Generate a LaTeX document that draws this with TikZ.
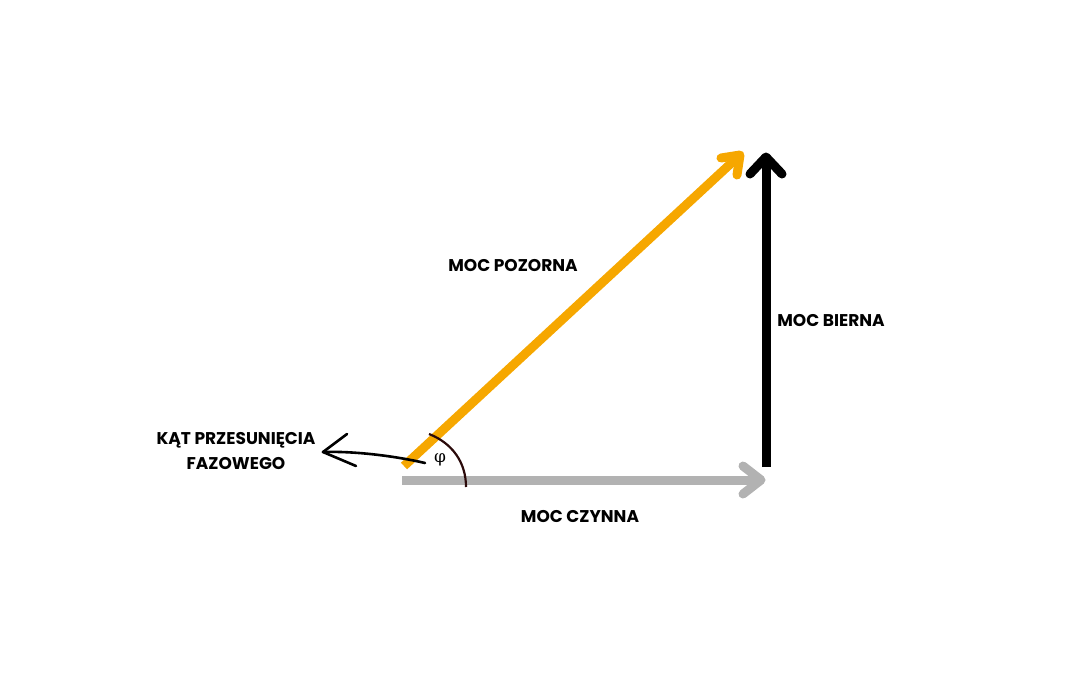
\documentclass[tikz,border=0pt]{standalone}
\usepackage{fontspec}
\setmainfont{Poppins}
\newfontfamily\grk{DejaVu Serif}
\definecolor{orng}{HTML}{F6A700}
\definecolor{gry}{HTML}{B2B2B2}
\definecolor{arcc}{HTML}{2B0A0A}
\tikzset{
  vec/.style={line width=9pt, line cap=round, line join=round},
  lbl/.style={font=\bfseries\fontsize{17}{20}\selectfont, inner sep=0pt, align=center},
}
\begin{document}
\begin{tikzpicture}[x=1pt,y=-1pt]
\useasboundingbox (0,0) rectangle (1080,675);
% coordinates
\coordinate (gS) at (402,480);
\coordinate (gT) at (761,480);
\coordinate (gA1) at (743,466);
\coordinate (gA2) at (743,494);
\coordinate (bS) at (766,467);
\coordinate (bT) at (766,157);
\coordinate (bA1) at (750,174);
\coordinate (bA2) at (782,174);
\coordinate (oS) at (404,466);
\coordinate (oT) at (740,155);
\coordinate (oA1) at (721,158);
\coordinate (oA2) at (737,175);
% vectors
\draw[vec, gry, line cap=butt] (gS) -- (gT);
\draw[vec, gry] (gA1) -- (gT) -- (gA2);
\draw[vec, black, line cap=butt] (bS) -- (bT);
\draw[vec, black] (bA1) -- (bT) -- (bA2);
\draw[vec, orng, line cap=butt] (oS) -- (oT);
\draw[vec, orng] (oA1) -- (oT) -- (oA2);
% angle arc
\coordinate (arcS) at (429,434);
\coordinate (arcE) at (466,487);
\draw[arcc, line width=2.2pt] (arcS) .. controls (452,443) and (466,462) .. (arcE);
\node[inner sep=0pt] (phi) at (440,460) {\grk\fontsize{17}{19}\selectfont φ};
% curved pointer
\coordinate (cS) at (425,463);
\coordinate (cT) at (323,452);
\coordinate (cA1) at (347,434);
\coordinate (cA2) at (356,466);
\draw[black, line width=2.6pt, line cap=round] (cS) .. controls (395,456) and (355,451) .. (cT);
\draw[black, line width=2.6pt, line cap=round, line join=round] (cA1) -- (cT) -- (cA2);
% labels
\node[lbl] (kat) at (236,440) {KĄT PRZESUNIĘCIA};
\node[lbl] (faz) at (236,464) {FAZOWEGO};
\node[lbl] (poz) at (513,266) {MOC POZORNA};
\node[lbl] (czy) at (580,517) {MOC CZYNNA};
\node[lbl] (bie) at (831,321) {MOC BIERNA};
\end{tikzpicture}
\end{document}
